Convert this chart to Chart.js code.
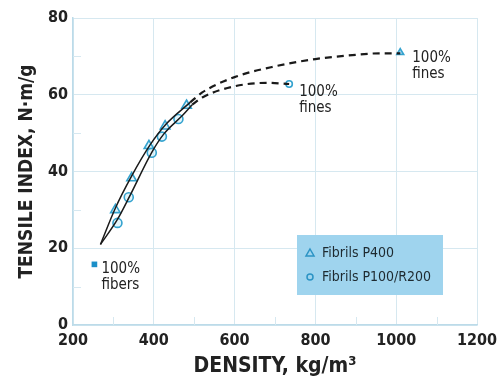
<!DOCTYPE html>
<html>
<head>
<meta charset="utf-8">
<script src="https://cdn.jsdelivr.net/npm/chart.js@4"></script>
<style>
    html, body { margin: 0; padding: 0; background: #fff; }
    #wrap { width: 497px; height: 379px; }
</style>
</head>
<body>
<div id="wrap"><canvas id="tensileChart" width="497" height="379"></canvas></div>
<script>
const xTicks = [200, 400, 600, 800, 1000, 1200];
const yTicks = [0, 20, 40, 60, 80];

const p400Density = [305, 345, 388, 428, 481];
const p400Tensile = [30, 38.3, 46.7, 51.8, 57.2];
const p100Density = [310, 338, 395, 420, 461];
const p100Tensile = [26.6, 33.3, 44.9, 49.1, 53.7];

const p400FinesDensity = [1010];
const p400FinesTensile = [71];
const p100FinesDensity = [735];
const p100FinesTensile = [62.8];
const fibersDensity = [253];
const fibersTensile = [15.8];

const p400FitDensity = [268, 305, 345, 390, 430, 490];
const p400FitTensile = [21, 30.5, 38.8, 46.8, 52.3, 58];
const p400TrendDensity = [490, 520, 600, 700, 800, 900, 960, 1010];
const p400TrendTensile = [58, 60.6, 64.6, 67.4, 69.3, 70.4, 70.8, 70.8];

const p100FitDensity = [268, 310, 340, 395, 425, 470, 495];
const p100FitTensile = [21, 27.5, 33.5, 45, 49.8, 54.5, 57.4];
const p100TrendDensity = [495, 520, 600, 680, 735];
const p100TrendTensile = [57.4, 59.3, 62.2, 63.1, 62.8];

const FONT = "'DejaVu Sans Condensed', 'Liberation Sans', sans-serif";
const BLUE = '#35a3cf';
const GRID = '#d6e8f0';

const pts = (xs, ys) => xs.map((x, i) => ({ x, y: ys[i] }));

function curve(xs, ys, dashed) {
    return {
        data: pts(xs, ys),
        borderColor: '#1a1a1a',
        borderWidth: dashed ? 2.2 : 1.5,
        borderDash: dashed ? [7, 5] : [],
        pointRadius: 0,
        cubicInterpolationMode: 'monotone',
        showLine: true,
        fill: false,
    };
}

function markers(xs, ys, style, radius, bg) {
    return {
        data: pts(xs, ys),
        showLine: false,
        pointStyle: style,
        pointRadius: radius,
        pointBorderWidth: 1.6,
        pointBorderColor: BLUE,
        pointBackgroundColor: bg,
    };
}

const decorations = {
    id: 'decorations',
    afterDatasetsDraw(chart) {
        const { ctx, scales: { x, y } } = chart;
        ctx.save();

        // minor ticks inside the frame
        ctx.strokeStyle = GRID;
        ctx.lineWidth = 1;
        [300, 500, 700, 900, 1100].forEach((v) => {
            const px = Math.round(x.getPixelForValue(v)) + 0.5;
            ctx.beginPath();
            ctx.moveTo(px, y.bottom);
            ctx.lineTo(px, y.bottom - 8);
            ctx.stroke();
        });
        [10, 30, 50, 70].forEach((v) => {
            const py = Math.round(y.getPixelForValue(v)) + 0.5;
            ctx.beginPath();
            ctx.moveTo(x.left, py);
            ctx.lineTo(x.left + 8, py);
            ctx.stroke();
        });

        // point labels
        ctx.fillStyle = '#222';
        ctx.font = '15px ' + FONT;
        ctx.textBaseline = 'middle';
        ctx.textAlign = 'left';
        const label = (dx, dy, lines, ox, oy) => {
            const px = x.getPixelForValue(dx) + ox;
            const py = y.getPixelForValue(dy) + oy;
            lines.forEach((t, i) => ctx.fillText(t, px, py + i * 16));
        };
        label(p400FinesDensity[0], p400FinesTensile[0], ['100%', 'fines'], 12, 6);
        label(p100FinesDensity[0], p100FinesTensile[0], ['100%', 'fines'], 10, 8);
        label(fibersDensity[0], fibersTensile[0], ['100%', 'fibers'], 7, 5);

        // legend box
        const bx = 297, by = 235, bw = 146, bh = 60;
        ctx.fillStyle = '#9fd4ee';
        ctx.fillRect(bx, by, bw, bh);
        ctx.fillStyle = '#1e2a30';
        ctx.font = '14px ' + FONT;
        ctx.fillText('Fibrils P400', bx + 25, by + 18);
        ctx.fillText('Fibrils P100/R200', bx + 25, by + 42);
        ctx.strokeStyle = '#2b93c4';
        ctx.lineWidth = 1.5;
        ctx.beginPath();
        ctx.moveTo(bx + 13, by + 14);
        ctx.lineTo(bx + 17, by + 21);
        ctx.lineTo(bx + 9, by + 21);
        ctx.closePath();
        ctx.stroke();
        ctx.beginPath();
        ctx.arc(bx + 13, by + 42, 3, 0, Math.PI * 2);
        ctx.stroke();

        ctx.restore();
    },
};

new Chart(document.getElementById('tensileChart'), {
    type: 'scatter',
    data: {
        datasets: [
            curve(p400FitDensity, p400FitTensile, false),
            curve(p400TrendDensity, p400TrendTensile, true),
            curve(p100FitDensity, p100FitTensile, false),
            curve(p100TrendDensity, p100TrendTensile, true),
            markers(p400Density, p400Tensile, 'triangle', 5.5, 'rgba(200,235,248,0.5)'),
            markers(p100Density, p100Tensile, 'circle', 4.5, 'rgba(200,235,248,0.5)'),
            markers(p400FinesDensity, p400FinesTensile, 'triangle', 4, '#9fd4ee'),
            markers(p100FinesDensity, p100FinesTensile, 'circle', 3.2, '#ffffff'),
            {
                data: pts(fibersDensity, fibersTensile),
                showLine: false,
                pointStyle: 'rect',
                pointRadius: 4,
                pointBorderWidth: 0,
                pointBackgroundColor: '#1b8fc8',
            },
        ],
    },
    options: {
        responsive: false,
        animation: false,
        devicePixelRatio: 1,
        layout: { padding: { top: 18, right: 20, left: 0, bottom: 0 } },
        plugins: {
            legend: { display: false },
            tooltip: { enabled: false },
        },
        scales: {
            x: {
                type: 'linear',
                min: 200,
                max: 1200,
                afterBuildTicks(scale) {
                    scale.ticks = xTicks.map((v) => ({ value: v }));
                },
                afterFit(scale) {
                    scale.height = 54;
                    scale.paddingRight = 0;
                },
                grid: { color: GRID, lineWidth: 1, drawTicks: false },
                border: { color: '#bcdbe9', width: 1.5 },
                ticks: {
                    color: '#222',
                    padding: 6,
                    callback: (v) => String(v),
                    font: { family: FONT, size: 16, weight: 'bold' },
                },
                title: {
                    display: true,
                    text: 'DENSITY, kg/m³',
                    color: '#222',
                    padding: { top: 0, bottom: 0 },
                    font: { family: FONT, size: 21, weight: 'bold' },
                },
            },
            y: {
                type: 'linear',
                min: 0,
                max: 80,
                afterBuildTicks(scale) {
                    scale.ticks = yTicks.map((v) => ({ value: v }));
                },
                afterFit(scale) { scale.width = 73; },
                grid: { color: GRID, lineWidth: 1, drawTicks: false },
                border: { color: '#bcdbe9', width: 1.5 },
                ticks: {
                    color: '#222',
                    padding: 5,
                    callback: (v) => String(v),
                    font: { family: FONT, size: 16, weight: 'bold' },
                },
                title: {
                    display: true,
                    text: 'TENSILE INDEX, N·m/g',
                    color: '#222',
                    padding: { top: 16, bottom: 0 },
                    font: { family: FONT, size: 19, weight: 'bold' },
                },
            },
        },
    },
    plugins: [decorations],
});
</script>
</body>
</html>
